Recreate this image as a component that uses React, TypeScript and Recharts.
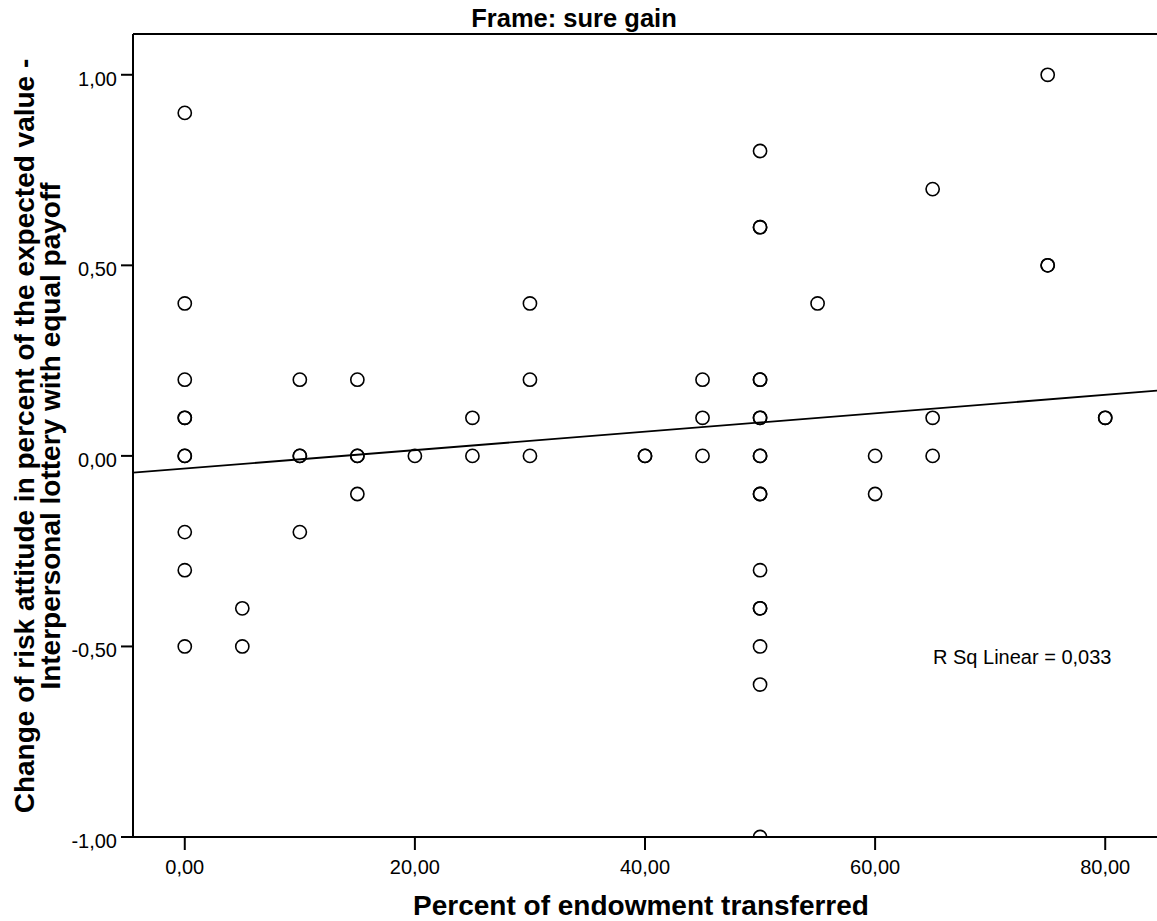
import { ScatterChart, Scatter, XAxis, YAxis, ReferenceLine, Label } from "recharts"

const FONT = '"Liberation Sans", Arial, Helvetica, sans-serif'

// percent of endowment transferred (one entry per column of points)
const columnX = [0, 5, 10, 15, 20, 25, 30, 40, 45, 50, 55, 60, 65, 75, 80]

// change of risk attitude for every respondent in each column
const columnY = [
  [0.9, 0.4, 0.2, 0.1, 0.1, 0, 0, -0.2, -0.3, -0.5],
  [-0.4, -0.5],
  [0.2, 0, 0, -0.2],
  [0.2, 0, 0, -0.1],
  [0],
  [0.1, 0],
  [0.4, 0.2, 0],
  [0, 0],
  [0.2, 0.1, 0],
  [0.8, 0.6, 0.6, 0.2, 0.2, 0.1, 0.1, 0, 0, -0.1, -0.1, -0.3, -0.4, -0.4, -0.5, -0.6, -1.0],
  [0.4],
  [0, -0.1],
  [0.7, 0.1, 0],
  [1.0, 0.5, 0.5],
  [0.1, 0.1],
]

const xTicks = [0, 20, 40, 60, 80]
const yTicks = [-1, -0.5, 0, 0.5, 1]
const xDomain = [-4.5, 84.5]
const yDomain = [-1, 1.107]

// linear fit as reported, endpoints at the frame edges
const fitLine = [
  { x: -4.5, y: -0.044 },
  { x: 84.5, y: 0.171 },
]
const rSquared = "0,033"

const points = columnX.flatMap((x, i) => columnY[i].map((y) => ({ x, y })))

const fmt = (v: number) => v.toFixed(2).replace(".", ",")

function XTick({ x, y, payload }: any) {
  return (
    <text x={x} y={y + 24} textAnchor="middle" fontSize={20} fontFamily={FONT} fill="#000">
      {fmt(payload.value)}
    </text>
  )
}

function YTick({ x, y, payload }: any) {
  return (
    <text x={x} y={y + 11} textAnchor="end" fontSize={20} fontFamily={FONT} fill="#000">
      {fmt(payload.value)}
    </text>
  )
}

function Circle({ cx, cy }: any) {
  return <circle cx={cx} cy={cy} r={6.6} fill="none" stroke="#000" strokeWidth={1.6} />
}

const boldText = { fontFamily: FONT, fontWeight: 700, fill: "#000" }

function YTitle() {
  const cy = 436
  return (
    <g>
      <text transform={`translate(34, ${cy}) rotate(-90)`} textAnchor="middle" fontSize={28} {...boldText}>
        Change of risk attitude in percent of the expected value -
      </text>
      <text transform={`translate(60, ${cy}) rotate(-90)`} textAnchor="middle" fontSize={28} {...boldText}>
        Interpersonal lottery with equal payoff
      </text>
    </g>
  )
}

function XTitle() {
  return (
    <text x={641} y={915} textAnchor="middle" fontSize={28} {...boldText}>
      Percent of endowment transferred
    </text>
  )
}

function Title() {
  return (
    <text x={574} y={27} textAnchor="middle" fontSize={25.5} {...boldText}>
      Frame: sure gain
    </text>
  )
}

function FitNote() {
  return (
    <text x={933} y={664} fontSize={20} fontFamily={FONT} fill="#000">
      R Sq Linear = {rSquared}
    </text>
  )
}

export default function App() {
  return (
    <div style={{ position: "absolute", left: 0, top: 0, width: 1157, height: 921, background: "#fff" }}>
      <ScatterChart width={1157} height={921} margin={{ top: 34, right: 0, bottom: 0, left: 0 }}>
        <XAxis
          type="number"
          dataKey="x"
          domain={xDomain}
          ticks={xTicks}
          allowDataOverflow
          height={84}
          tickSize={13}
          tickMargin={0}
          tick={<XTick />}
          axisLine={{ stroke: "#000", strokeWidth: 2 }}
          tickLine={{ stroke: "#000", strokeWidth: 2 }}
        >
          <Label content={<XTitle />} />
        </XAxis>
        <YAxis
          type="number"
          dataKey="y"
          domain={yDomain}
          ticks={yTicks}
          allowDataOverflow
          width={133}
          tickSize={12}
          tickMargin={4}
          tick={<YTick />}
          axisLine={{ stroke: "#000", strokeWidth: 2 }}
          tickLine={{ stroke: "#000", strokeWidth: 2 }}
        >
          <Label content={<YTitle />} />
        </YAxis>
        <ReferenceLine y={yDomain[1]} stroke="#000" strokeWidth={2} label={<Title />} />
        <ReferenceLine segment={fitLine} ifOverflow="hidden" stroke="#000" strokeWidth={1.8} label={<FitNote />} />
        <Scatter data={points} shape={<Circle />} isAnimationActive={false} />
      </ScatterChart>
    </div>
  )
}
